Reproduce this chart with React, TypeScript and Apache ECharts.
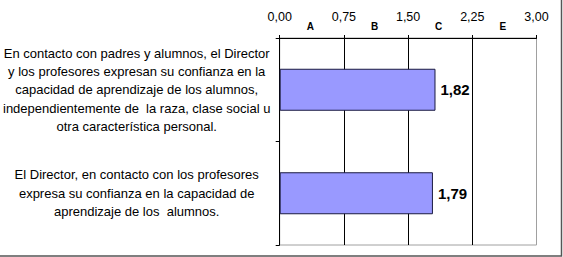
import React, { useEffect, useRef } from "react";
import * as echarts from "echarts";

const categories = [
  "En contacto con padres y alumnos, el Director\ny los profesores expresan su confianza en la\ncapacidad de aprendizaje de los alumnos,\nindependientemente de  la raza, clase social u\notra característica personal.",
  "El Director, en contacto con los profesores\nexpresa su confianza en la capacidad de\naprendizaje de los  alumnos.",
];
const values = [1.82, 1.79];
const scaleLetters = ["A", "B", "C", "E"];
const axisMin = 0;
const axisMax = 3;
const axisInterval = 0.75;

const FONT = "'Liberation Sans', Arial, sans-serif";
const fmt = (v: number) => v.toFixed(2).replace(".", ",");

export default function App() {
  const ref = useRef<HTMLDivElement>(null);
  useEffect(() => {
    if (!ref.current) return;
    const chart = echarts.init(ref.current, null, { renderer: "svg" });
    chart.setOption({
      animation: false,
      textStyle: { fontFamily: FONT },
      grid: {
        left: 277,
        right: 26.5,
        top: 38,
        bottom: 12,
        show: true,
        borderColor: "#a0a0a0",
        borderWidth: 1,
      },
      xAxis: [
        {
          type: "value",
          position: "top",
          min: axisMin,
          max: axisMax,
          interval: axisInterval,
          axisLine: { show: true, lineStyle: { color: "#000", width: 1 } },
          axisTick: { show: true, length: 3, lineStyle: { color: "#000" } },
          axisLabel: {
            formatter: (v: number) => fmt(v),
            fontSize: 12.5,
            color: "#000",
            margin: 15,
            fontFamily: FONT,
          },
          splitLine: { show: true, showMaxLine: false, lineStyle: { color: "#000", width: 1 } },
        },
        {
          type: "category",
          position: "top",
          data: scaleLetters,
          boundaryGap: true,
          axisLine: { show: false },
          axisTick: { show: false },
          splitLine: { show: false },
          axisLabel: {
            fontSize: 10,
            fontWeight: "bold",
            color: "#000",
            margin: 7,
            padding: [0, 3, 0, 0],
            fontFamily: FONT,
          },
        },
      ],
      yAxis: {
        type: "category",
        inverse: true,
        data: categories,
        axisLine: { show: true, lineStyle: { color: "#000", width: 1 } },
        axisTick: { show: true, length: 4, lineStyle: { color: "#000" } },
        splitLine: { show: false },
        axisLabel: {
          align: "center",
          margin: 143,
          fontSize: 13,
          lineHeight: 18.3,
          color: "#000",
          fontFamily: FONT,
        },
      },
      series: [
        {
          type: "bar",
          xAxisIndex: 0,
          data: values,
          barWidth: 42,
          itemStyle: { color: "#9999FF", borderColor: "#1a1a40", borderWidth: 1 },
          label: {
            show: true,
            position: "right",
            distance: 5,
            formatter: (p: any) => fmt(p.value),
            fontSize: 15,
            fontWeight: "bold",
            color: "#000",
            fontFamily: FONT,
          },
        },
      ],
      graphic: [
        {
          type: "rect",
          shape: { x: -5, y: -5, width: 566.5, height: 261 },
          style: { fill: "none", stroke: "#555", lineWidth: 1.5 },
          silent: true,
        },
      ],
    });
    return () => chart.dispose();
  }, []);
  return (
    <div
      ref={ref}
      style={{ position: "fixed", left: 0, top: 0, width: 563, height: 257, background: "#fff" }}
    />
  );
}
